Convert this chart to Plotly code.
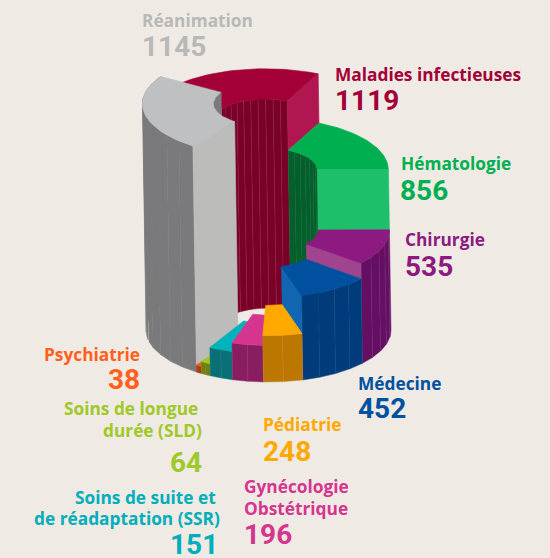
import numpy as np
import plotly.graph_objects as go

categories = ["Réanimation", "Maladies infectieuses", "Hématologie", "Chirurgie", "Médecine",
              "Pédiatrie", "Gynécologie Obstétrique", "Soins de suite et de réadaptation (SSR)",
              "Soins de longue durée (SLD)", "Psychiatrie"]
values = [1145, 1119, 856, 535, 452, 248, 196, 151, 64, 38]

BG = "#efebe4"
TOP = ["#bfc0c2", "#a30038", "#00b050", "#8c1a80", "#0050a0", "#ffa800", "#d6358f", "#00b2bb", "#a0c828", "#f06020"]
FACE = ["#bcbdbb", "#b0164f", "#1dbf6a", "#a0448f", "#1066b0", "#ffa800", "#d6358f", "#00b2bb", "#a0c828", "#f06020"]
WALL = ["#7a7a7c", "#7a0028", "#045f2c", "#650f63", "#003b7c", "#bb7700", "#8a1c60", "#0a7076", "#6f8010", "#a83f10"]
STRIPE = ["#7a7a7c", "#8a2344", "#0c6633", "#6f2270", "#0f4684", "#c08028", "#92306a", "#1a7a80", "#788828", "#a83f10"]

START = 126.0
CX, CY, RX, RY = 268.5, 330.0, 122.5, 52.0
SHEAR = 0.016
INNER = 0.42
K = 0.187

vals = np.array(values, float)
heights = vals * K
heights[0] += 12
edges = START + np.concatenate([[0], np.cumsum(vals / vals.sum() * 360)])


def pt(t, r, h):
    a = np.radians(t)
    return (CX - SHEAR * h + RX * r * np.cos(a), CY - h + RY * r * np.sin(a))


def poly(points, fill, line=None, lw=0.6):
    xs = [p[0] for p in points] + [points[0][0]]
    ys = [p[1] for p in points] + [points[0][1]]
    fig.add_trace(go.Scatter(x=xs, y=ys, mode="lines", fill="toself", fillcolor=fill,
                             line=dict(color=line or fill, width=lw), hoverinfo="skip", showlegend=False))


def arc(t1, t2, r, h, n=40):
    return [pt(t, r, h) for t in np.linspace(t1, t2, n)]


def top(i):
    t1, t2 = edges[i], edges[i + 1]
    h = heights[i]
    poly(arc(t1, t2, 1, h) + arc(t2, t1, INNER, h), TOP[i])


def wall(i, t1, t2, r, h0, h1):
    n = max(2, int(abs(t2 - t1) / 8))
    ts = np.linspace(t1, t2, n + 1)
    for a, b in zip(ts[:-1], ts[1:]):
        poly(arc(a, b, r, h1, 6) + arc(b, a, r, h0, 6), WALL[i], STRIPE[i], 0.5)


def face(i, t, h0, h1):
    poly([pt(t, INNER, h0), pt(t, 1, h0), pt(t, 1, h1), pt(t, INNER, h1)], FACE[i])


fig = go.Figure()
REAN, MAL, HEM, CHI, MED, PED, GYN, SSR, SLD, PSY = range(10)

# back of the ring
wall(MAL, edges[MAL], edges[MAL + 1], INNER, 0, heights[MAL])
top(MAL)
wall(REAN, 180, edges[REAN + 1], INNER, heights[MAL] - 5, heights[REAN])
wall(HEM, edges[HEM], 360, INNER, 0, heights[HEM])
face(MAL, edges[MAL + 1], heights[HEM], heights[MAL])
top(HEM)
face(HEM, edges[HEM + 1], heights[CHI], heights[HEM])
# tall left column
wall(REAN, edges[REAN], edges[REAN + 1], 1, 0, heights[REAN])
face(REAN, edges[REAN], 0, heights[REAN])
top(REAN)
# right and front columns
wall(CHI, edges[CHI], edges[CHI + 1], 1, 0, heights[CHI])
face(CHI, edges[CHI + 1], heights[MED], heights[CHI])
top(CHI)
wall(MED, edges[MED], edges[MED + 1], 1, 0, heights[MED])
face(MED, edges[MED + 1], heights[PED], heights[MED])
top(MED)
for i in (PSY, SLD, SSR, GYN, PED):
    wall(i, edges[i], edges[i + 1], 1, 0, heights[i])
    top(i)

LABEL_FONT = "Open Sans"
VALUE_FONT = "Roboto"
# (lines with their own x, value, value x, anchor, line centres, value centre, colour)
labels = [
    ([("Réanimation", 140)], "1145", 140, "left", [20], 46, "#b8b8b8"),
    ([("Maladies infectieuses", 333)], "1119", 333, "left", [74], 100, TOP[MAL]),
    ([("Hématologie", 399)], "856", 398, "left", [163], 190, TOP[HEM]),
    ([("Chirurgie", 403)], "535", 403, "left", [239], 266, TOP[CHI]),
    ([("Médecine", 356)], "452", 356, "left", [383], 408, TOP[MED]),
    ([("Pédiatrie", 261)], "248", 261, "left", [424], 451, TOP[PED]),
    ([("Gynécologie", 242), ("Obstétrique", 242)], "196", 242, "left", [486, 508], 534, TOP[GYN]),
    ([("Psychiatrie", 142)], "38", 142, "right", [354], 379, "#ff6020"),
    ([("Soins de longue", 200), ("durée (SLD)", 204)], "64", 204, "right", [408, 430], 462, TOP[SLD]),
    ([("Soins de suite et", 218), ("de réadaptation (SSR)", 222)], "151", 220, "right", [497, 518], 544, "#00aebb"),
]
for lines, val, vx, anchor, ys, vy, col in labels:
    for (s, x), y in zip(lines, ys):
        fig.add_annotation(x=x, y=y, text=f"<b>{s}</b>", showarrow=False, xanchor=anchor, yanchor="middle",
                           font=dict(family=LABEL_FONT, size=17.3, color=col))
    fig.add_annotation(x=vx, y=vy, text=f"<b>{val}</b>", showarrow=False, xanchor=anchor, yanchor="middle",
                       height=26, font=dict(family=VALUE_FONT, size=28, color=col))

fig.update_layout(width=550, height=558, margin=dict(l=0, r=0, t=0, b=0), paper_bgcolor=BG, plot_bgcolor=BG,
                  showlegend=False,
                  xaxis=dict(visible=False, range=[0, 550], fixedrange=True),
                  yaxis=dict(visible=False, range=[558, 0], fixedrange=True))
fig.write_html("out.html", post_script="document.body.style.margin='0';document.body.style.overflow='hidden';",
               config={"displayModeBar": False})
